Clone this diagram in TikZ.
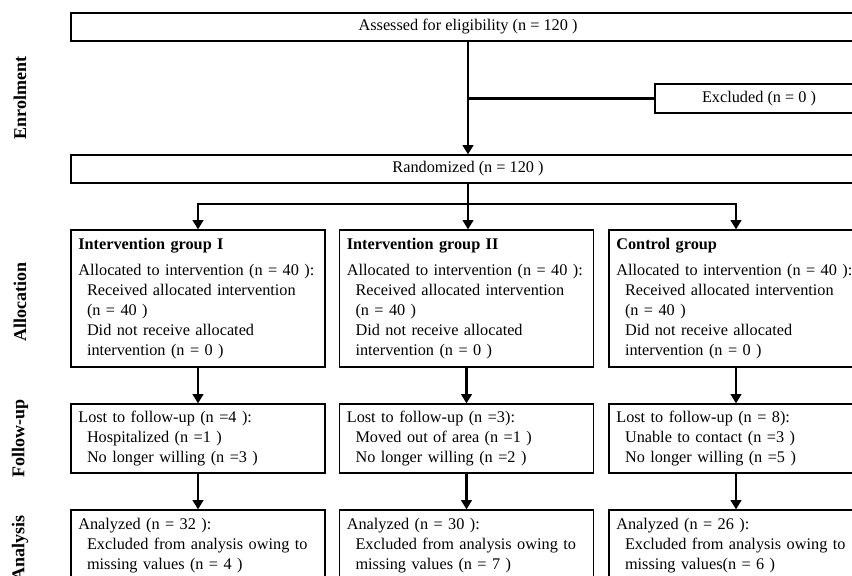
\documentclass[tikz,border=0pt]{standalone}
\usepackage{fontspec}
\setmainfont{Liberation Serif}
\usetikzlibrary{arrows.meta,positioning}
\newcommand\ind{\hspace*{6.5pt}}
\tikzset{
  wide/.style={draw, line width=0.9pt, minimum width=595.5pt, minimum height=21pt, inner sep=0pt},
  grp/.style={draw, line width=0.9pt, minimum width=190.5pt, inner xsep=5.5pt, inner ysep=0pt,
    text width=179.5pt, align=left},
  phase/.style={rotate=90, font=\fontsize{13.5}{15}\selectfont\bfseries},
  arr/.style={line width=1.6pt, -{Triangle[length=7pt,width=8pt]}},
  link/.style={line width=1.6pt}
}
\begin{document}
\begin{tikzpicture}[x=0.75pt, y=-0.75pt, font=\fontsize{12.2}{15}\selectfont]
\clip (0,0) rectangle (852,575);
\fill[white] (0,0) rectangle (852,575);
\node[phase] (enrol) at (20,98) {Enrolment};
\node[phase] (alloc) at (20,302) {Allocation};
\node[phase] (follow) at (20,438) {Follow-up};
\node[phase] (anal) at (20,548) {Analysis};
\node[wide] (assess) at (468,27) {Assessed for eligibility (n = 120 )};
\node[wide, minimum width=156pt, minimum height=21.75pt] (excl) at (759,98.5) {Excluded (n = 0 )};
\node[wide] (rand) at (468,169) {Randomized (n = 120 )};
\node[grp, minimum height=102.75pt] (grpA) at (198,298.5) {\textbf{Intervention group I}\\[4.5pt]Allocated to intervention (n = 40 ):\\\ind Received allocated intervention\\\ind(n = 40 )\\\ind Did not receive allocated\\\ind intervention (n = 0 )};
\node[grp, minimum height=102.75pt] (grpB) at (466.5,298.5) {\textbf{Intervention group II}\\[4.5pt]Allocated to intervention (n = 40 ):\\\ind Received allocated intervention\\\ind(n = 40 )\\\ind Did not receive allocated\\\ind intervention (n = 0 )};
\node[grp, minimum height=102.75pt] (grpC) at (736,298.5) {\textbf{Control group}\\[4.5pt]Allocated to intervention (n = 40 ):\\\ind Received allocated intervention\\\ind(n = 40 )\\\ind Did not receive allocated\\\ind intervention (n = 0 )};
\node[grp, minimum height=51.75pt] (lostA) at (198,438.5) {Lost to follow-up (n =4 ):\\\ind Hospitalized (n =1 )\\\ind No longer willing (n =3 )};
\node[grp, minimum height=51.75pt] (lostB) at (466.5,438.5) {Lost to follow-up (n =3):\\\ind Moved out of area (n =1 )\\\ind No longer willing (n =2 )};
\node[grp, minimum height=51.75pt] (lostC) at (736,438.5) {Lost to follow-up (n = 8):\\\ind Unable to contact (n =3 )\\\ind No longer willing (n =5 )};
\node[grp, minimum height=54pt] (anaA) at (198,546) {Analyzed (n = 32 ):\\\ind Excluded from analysis owing to\\\ind missing values (n = 4 )};
\node[grp, minimum height=54pt] (anaB) at (466.5,546) {Analyzed (n = 30 ):\\\ind Excluded from analysis owing to\\\ind missing values (n = 7 )};
\node[grp, minimum height=54pt] (anaC) at (736,546) {Analyzed (n = 26 ):\\\ind Excluded from analysis owing to\\\ind missing values(n = 6 )};
\coordinate (branch) at (assess.south |- excl.west);
\coordinate (split) at (468,204);
\draw[arr] (assess) -- (rand);
\draw[link] (branch) -- (excl.west);
\draw[link] (rand.south) -- (split);
\draw[arr] (split) -| (grpA.north);
\draw[arr] (split) -- (split |- grpB.north);
\draw[arr] (split) -| (grpC.north);
\draw[arr] (grpA) -- (lostA);
\draw[arr] (grpB) -- (lostB);
\draw[arr] (grpC) -- (lostC);
\draw[arr] (lostA) -- (anaA);
\draw[arr] (lostB) -- (anaB);
\draw[arr] (lostC) -- (anaC);
\end{tikzpicture}
\end{document}
